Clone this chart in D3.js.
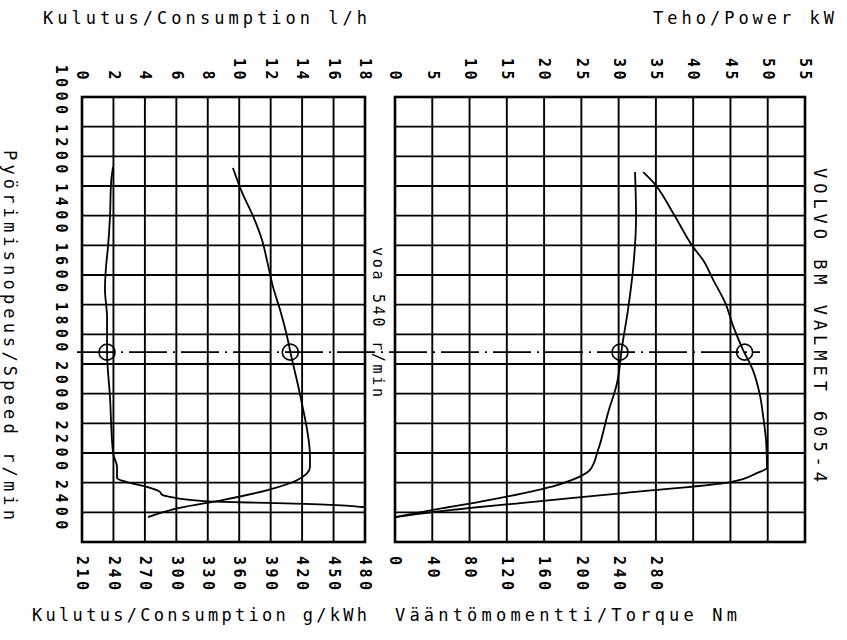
<!DOCTYPE html>
<html><head><meta charset="utf-8">
<script src="https://cdn.jsdelivr.net/npm/d3@7"></script>
<style>
html,body{margin:0;padding:0;background:#fff;}
svg{display:block;}
text{font-family:"DejaVu Sans Mono","Liberation Mono",monospace;fill:#000;}
</style></head>
<body>
<svg id="c" width="847" height="640"></svg>
<script>
// ---- data ----
const speedTicks = [1000,1200,1400,1600,1800,2000,2200,2400];
const lhTicks = [0,2,4,6,8,10,12,14,16,18];
const gkwhTicks = [210,240,270,300,330,360,390,420,450,480];
const kwTicks = [0,5,10,15,20,25,30,35,40,45,50,55];
const nmTicks = [0,40,80,120,160,200,240,280];

const lhSpeed  = [1239,1324,1404,1482,1559,1640,1718,1809,1859,2011,2213,2247,2291,2325,2358,2385,2416];
const lhValues = [9.6,10.2,10.9,11.45,11.8,12.15,12.6,13.05,13.25,13.9,14.5,14.5,13.7,11.8,9.0,6.2,4.2];

const gSpeed  = [1236,1290,1404,1506,1573,1650,1741,1859,2011,2200,2247,2284,2298,2314,2331,2341,2348,2358,2365,2368,2372,2382,2390];
const gValues = [239.6,237.7,236.7,234.8,232.9,231.9,233.9,233.9,236.7,239.6,243.4,243.4,253,272,284.4,286.3,294,313,344.5,386.5,430.4,478,500];

const tqSpeed  = [1253,1404,1583,1718,1843,1964,2065,2190,2257,2284,2308,2358,2392,2416];
const tqValues = [257.6,258.7,255.4,250,243.6,238.3,228.6,217.9,209.3,195.3,173.9,102,40.8,0];

const pwSpeed  = [1253,1286,1391,1506,1549,1617,1694,1775,1853,1920,2011,2079,2166,2250,2267,2298,2335,2368,2399,2416];
const pwValues = [33.3,34.6,37.3,40.0,41.3,42.7,44.3,45.4,46.7,48.0,49.0,49.4,49.8,49.9,48.6,45.0,30.6,17.2,5.1,0];

const ptoSpeed = 1860;
const ptoMarks = {g:233.9, lh:13.25, tq:241.5, pw:46.9};

// ---- scales ----
const svg = d3.select("#c");
const y = d3.scaleLinear().domain([1000,2500]).range([97,542]);
const xLh = d3.scaleLinear().domain([0,18]).range([82,365]);
const xG  = d3.scaleLinear().domain([210,480]).range([82,365]);
const xKw = d3.scaleLinear().domain([0,55]).range([395,805]);
const xNm = d3.scaleLinear().domain([0,440]).range([395,805]);

const rowTicks = d3.range(1000,2501,100);

function grid(xs, x0, x1){
  const g = svg.append("g");
  g.selectAll("line.h").data(rowTicks).join("line")
    .attr("x1",x0).attr("x2",x1).attr("y1",d=>y(d)).attr("y2",d=>y(d))
    .attr("stroke","#000").attr("stroke-width",1.9);
  g.selectAll("line.v").data(xs).join("line")
    .attr("x1",d=>d).attr("x2",d=>d).attr("y1",y(1000)).attr("y2",y(2500))
    .attr("stroke","#000").attr("stroke-width",1.9);
  g.append("rect").attr("x",x0).attr("y",y(1000)).attr("width",x1-x0).attr("height",y(2500)-y(1000))
    .attr("fill","none").attr("stroke","#000").attr("stroke-width",2.6);
}
grid(lhTicks.map(xLh), 82, 365);
grid(d3.range(0,56,5).map(xKw), 395, 805);

// ---- axes ----
function styleTicks(sel, anchor){
  sel.select(".domain").remove();
  sel.selectAll(".tick line").remove();
  sel.selectAll(".tick text")
    .attr("x",0).attr("y",0).attr("dy","0.35em")
    .attr("transform","rotate(90)")
    .attr("text-anchor",anchor)
    .style("font-size","15px").style("font-weight","bold").style("letter-spacing","3.5px");
}
svg.append("g").attr("transform","translate(0,83)")
  .call(d3.axisTop(xLh).tickValues(lhTicks).tickSize(0)).call(s=>styleTicks(s,"end"));
svg.append("g").attr("transform","translate(0,83)")
  .call(d3.axisTop(xKw).tickValues(kwTicks).tickSize(0)).call(s=>styleTicks(s,"end"));
svg.append("g").attr("transform","translate(0,556)")
  .call(d3.axisBottom(xG).tickValues(gkwhTicks).tickSize(0)).call(s=>styleTicks(s,"start"));
svg.append("g").attr("transform","translate(0,556)")
  .call(d3.axisBottom(xNm).tickValues(nmTicks).tickSize(0)).call(s=>styleTicks(s,"start"));
const sAx = svg.append("g").attr("transform","translate(61,0)")
  .call(d3.axisLeft(y).tickValues(speedTicks).tickFormat(d3.format("d")).tickSize(0));
sAx.select(".domain").remove();
sAx.selectAll(".tick text")
  .attr("x",0).attr("y",0).attr("dy","0.35em")
  .attr("transform","translate(0,-6) rotate(90)")
  .attr("text-anchor","middle")
  .style("font-size","15px").style("font-weight","bold").style("letter-spacing","4.4px");

// ---- titles ----
function title(txt, x, yy, len, rot){
  const t = svg.append("text").text(txt).style("font-size","17px")
    .attr("textLength",len).attr("lengthAdjust","spacing");
  if(rot){ t.attr("transform",`translate(${x},${yy}) rotate(90)`).attr("dy","0.35em"); }
  else { t.attr("x",x).attr("y",yy); }
  return t;
}
title("Kulutus/Consumption l/h", 43, 24, 324);
title("Teho/Power kW", 653, 24, 181);
title("Kulutus/Consumption g/kWh", 32, 621, 335);
title("Vääntömomentti/Torque Nm", 395, 621, 342);
title("Pyörimisnopeus/Speed r/min", 10, 150, 370, true);
title("VOLVO BM VALMET 605-4", 820, 168, 314, true);
svg.append("text").text("voa 540 r/min").style("font-size","15px")
  .attr("textLength",150).attr("lengthAdjust","spacing")
  .attr("transform","translate(378,247) rotate(90)").attr("dy","0.35em");

// ---- clip ----
const defs = svg.append("defs");
defs.append("clipPath").attr("id","clipL").append("rect").attr("x",82).attr("y",97).attr("width",283).attr("height",445);
defs.append("clipPath").attr("id","clipR").append("rect").attr("x",395).attr("y",97).attr("width",410).attr("height",445);

function curve(xs, vals, speeds, clip){
  const line = d3.line().x(d=>xs(d[0])).y(d=>y(d[1])).curve(d3.curveMonotoneY);
  svg.append("path").attr("d", line(vals.map((v,i)=>[v,speeds[i]])))
    .attr("fill","none").attr("stroke","#000").attr("stroke-width",1.8)
    .attr("clip-path",`url(#${clip})`);
}
curve(xLh, lhValues, lhSpeed, "clipL");
curve(xG, gValues, gSpeed, "clipL");
curve(xNm, tqValues, tqSpeed, "clipR");
curve(xKw, pwValues, pwSpeed, "clipR");

// ---- PTO line and markers ----
svg.append("line").attr("x1",77).attr("x2",760).attr("y1",y(ptoSpeed)).attr("y2",y(ptoSpeed))
  .attr("stroke","#000").attr("stroke-width",1.6).attr("stroke-dasharray","38,6,2,6");
const marks = [xG(ptoMarks.g), xLh(ptoMarks.lh), xNm(ptoMarks.tq), xKw(ptoMarks.pw)];
svg.selectAll("circle.m").data(marks).join("circle")
  .attr("cx",d=>d).attr("cy",y(ptoSpeed)).attr("r",8)
  .attr("fill","none").attr("stroke","#000").attr("stroke-width",1.6);
</script>
</body></html>
